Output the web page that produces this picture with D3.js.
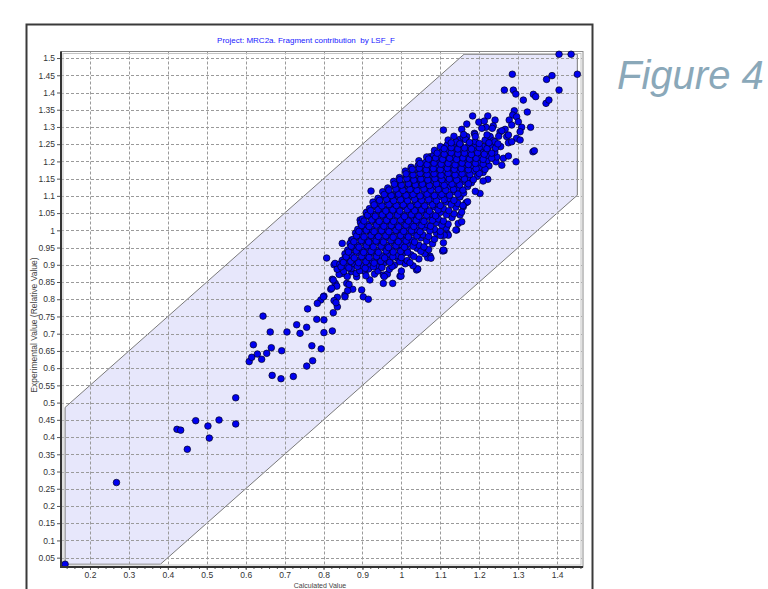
<!DOCTYPE html>
<html>
<head>
<meta charset="utf-8">
<script src="https://cdn.jsdelivr.net/npm/d3@7"></script>
<style>
  body { margin: 0; background: #fff; }
  text { font-family: "Liberation Sans", Arial, sans-serif; }
</style>
</head>
<body>
<svg id="chart" width="768" height="589"></svg>
<script>
var titleText = "Project: MRC2a. Fragment contribution  by LSF_F";
var xLabel = "Calculated Value";
var yLabel = "Experimental Value (Relative Value)";
var figureLabel = "Figure 4";

var xTicks = [0.2, 0.3, 0.4, 0.5, 0.6, 0.7, 0.8, 0.9, 1, 1.1, 1.2, 1.3, 1.4];
var yTicks = [0.05, 0.1, 0.15, 0.2, 0.25, 0.3, 0.35, 0.4, 0.45, 0.5, 0.55, 0.6, 0.65, 0.7, 0.75,
              0.8, 0.85, 0.9, 0.95, 1, 1.05, 1.1, 1.15, 1.2, 1.25, 1.3, 1.35, 1.4, 1.45, 1.5];
var bandWidth = 0.35;

// scattered points
var sparsePoints = [
  [0.136,0.031],[0.268,0.268],[0.4235,0.4225],[0.433,0.420],[0.4716,0.4475],[0.450,0.3645],
  [0.503,0.432],[0.5065,0.397],[0.5315,0.4495],[0.5744,0.514],[0.5744,0.438],[0.609,0.619],
  [0.6155,0.6315],[0.6197,0.668],[0.630,0.641],[0.641,0.6257],[0.6445,0.751],[0.654,0.643],
  [0.663,0.705],[0.6658,0.6593],[0.668,0.579],[0.6907,0.5693],[0.6925,0.6506],[0.706,0.705],
  [0.7224,0.576],[0.731,0.726],[0.7396,0.701],[0.7566,0.7186],[0.7826,0.7418],[0.801,0.740],
  [0.801,0.703],[0.8226,0.708],[0.770,0.665],[0.794,0.656],[0.772,0.6216],[0.7568,0.606],
  [0.759,0.772],[0.808,0.9196],[0.827,0.900],[0.849,0.900],[0.8596,0.916],[0.8226,0.858],
  [0.830,0.846],[0.8185,0.829],[0.834,0.838],[0.8596,0.846],[0.855,0.812],[0.875,0.829],
  [0.8655,0.843],[0.801,0.809],[0.793,0.798],[0.784,0.788],[0.8355,0.8056],[0.827,0.796],
  [0.8355,0.778],[0.825,0.761],[0.848,0.962],[0.8295,0.904],[0.7995,0.807],[0.825,0.856],
  [0.821,0.832],[0.832,0.790],[0.855,0.807],[0.862,0.825],[0.898,0.827],[0.902,0.807],
  [0.915,0.800],[0.9536,0.846],[0.9777,0.846],[0.9536,0.870],[0.964,0.873],[0.9965,0.867],
  [1.041,0.887],[1.1096,0.941],[1.108,0.964],[1.106,0.986],[1.0736,0.925],[1.059,0.948],
  [1.0675,0.9205],[1.142,1.001],[1.1165,1.0105],[1.146,1.020],[0.998,0.916],[0.971,0.909],
  [0.945,0.909],[0.9495,0.8944],[0.922,1.114],[0.9665,1.1025],[0.986,1.1025],[0.9425,1.086],
  [0.932,1.040],[0.911,1.0464],[1.0137,1.093],[1.042,1.141],[1.0736,1.2135],[1.065,1.1944],
  [1.018,1.1315],[0.915,1.044],[0.894,1.030],[0.898,1.001],[0.872,0.972],[0.8765,0.948],
  [0.868,0.928],[0.855,0.919],[0.8466,0.894],[0.851,0.875],[0.872,0.880],[0.885,0.865],
  [0.9066,0.880],[0.919,0.856],[1.039,0.885],[1.106,0.940],[1.118,0.991],[1.202,1.107],
  [1.166,1.080],[1.155,1.025],[1.140,1.001],[1.1206,0.986],[1.108,0.943],[1.076,0.919],
  [1.042,0.888],[0.999,0.867],[1.338,1.228],[1.1507,1.0975],[1.159,1.0685],[1.1507,1.0444],
  [1.222,1.148],[1.185,1.1845],[1.0967,1.1556],[1.129,1.2235],[1.1147,1.2426]
];

// upper end of the cloud
var upperPoints = [
  [1.108,1.291],[1.183,1.332],[1.199,1.314],[1.222,1.332],[1.2406,1.320],[1.236,1.303],
  [1.2175,1.299],[1.168,1.3085],[1.155,1.293],[1.168,1.272],[1.1875,1.2815],[1.1507,1.264],
  [1.226,1.272],[1.232,1.257],[1.2535,1.286],[1.2705,1.272],[1.275,1.254],[1.262,1.209],
  [1.258,1.189],[1.243,1.199],[1.405,1.511],[1.436,1.511],[1.452,1.453],[1.285,1.453],
  [1.373,1.438],[1.387,1.449],[1.2645,1.407],[1.2876,1.407],[1.294,1.3955],[1.3133,1.378],
  [1.339,1.3947],[1.345,1.388],[1.405,1.407],[1.3716,1.3685],[1.379,1.378],[1.3235,1.3433],
  [1.290,1.347],[1.286,1.3346],[1.296,1.3297],[1.277,1.320],[1.3005,1.315],[1.2835,1.3056],
  [1.2665,1.293],[1.309,1.299],[1.332,1.299],[1.305,1.286],[1.258,1.289],[1.275,1.2766],
  [1.296,1.267],[1.2835,1.257],[1.305,1.262],[1.3416,1.231],[1.2066,1.296],[1.213,1.317],
  [1.2335,1.296],[1.189,1.2786],[1.159,1.270],[1.228,1.272],[1.236,1.260],[1.2235,1.2525],
  [1.275,1.2156],[1.2945,1.199],[1.185,1.2525],[1.2066,1.2426]
];

// dense core, estimated (points overlap too much to read singly)
var corePoints = [
  [0.84,0.872],[0.861,0.866],[0.884,0.875],[0.909,0.868],[0.931,0.873],[0.956,0.866],
  [0.835,0.887],[0.852,0.881],[0.871,0.889],[0.893,0.883],[0.916,0.888],[0.94,0.882],[0.969,0.887],[1.0,0.882],
  [0.842,0.902],[0.86,0.896],[0.878,0.904],[0.897,0.898],[0.918,0.903],[0.935,0.897],[0.955,0.905],[0.982,0.899],[1.01,0.903],[1.03,0.897],
  [0.848,0.913],[0.868,0.919],[0.887,0.912],[0.905,0.918],[0.925,0.911],[0.944,0.917],[0.965,0.913],[0.99,0.919],[1.015,0.912],[1.045,0.917],
  [0.855,0.932],[0.873,0.927],[0.892,0.934],[0.912,0.928],[0.93,0.933],[0.95,0.926],[0.968,0.932],[0.988,0.927],[1.005,0.934],[1.025,0.929],[1.06,0.932],
  [0.862,0.943],[0.88,0.948],[0.9,0.942],[0.918,0.947],[0.937,0.941],[0.957,0.948],[0.975,0.943],[0.995,0.947],[1.015,0.942],[1.04,0.948],[1.07,0.944],
  [0.868,0.962],[0.887,0.957],[0.906,0.963],[0.925,0.958],[0.944,0.962],[0.962,0.956],[0.981,0.963],[1.0,0.958],[1.02,0.962],[1.045,0.957],[1.08,0.961],
  [0.875,0.973],[0.893,0.978],[0.912,0.972],[0.93,0.977],[0.95,0.972],[0.968,0.978],[0.987,0.973],[1.006,0.977],[1.026,0.972],[1.05,0.978],[1.085,0.974],
  [0.882,0.992],[0.9,0.987],[0.92,0.993],[0.938,0.988],[0.956,0.992],[0.975,0.986],[0.993,0.993],[1.012,0.988],[1.032,0.992],[1.055,0.987],[1.09,0.992],[1.11,0.986],
  [0.888,1.003],[0.906,1.008],[0.925,1.002],[0.945,1.007],[0.962,1.002],[0.98,1.008],[1.0,1.003],[1.018,1.007],[1.038,1.002],[1.06,1.008],[1.085,1.003],[1.115,1.007],
  [0.895,1.022],[0.913,1.017],[0.932,1.023],[0.95,1.018],[0.97,1.022],[0.988,1.016],[1.006,1.023],[1.025,1.018],[1.044,1.022],[1.066,1.017],[1.09,1.022],[1.12,1.018],
  [0.9,1.033],[0.92,1.038],[0.94,1.032],[0.958,1.037],[0.976,1.032],[0.995,1.038],[1.013,1.033],[1.032,1.037],[1.05,1.032],[1.07,1.038],[1.095,1.033],[1.13,1.037],
  [0.91,1.052],[0.928,1.047],[0.947,1.053],[0.965,1.048],[0.983,1.052],[1.002,1.046],[1.02,1.053],[1.038,1.048],[1.057,1.052],[1.077,1.047],[1.1,1.052],[1.135,1.048],[1.155,1.053],
  [0.918,1.063],[0.936,1.068],[0.955,1.062],[0.973,1.067],[0.991,1.062],[1.01,1.068],[1.028,1.063],[1.046,1.067],[1.064,1.062],[1.084,1.068],[1.108,1.063],[1.14,1.067],
  [0.927,1.082],[0.945,1.077],[0.963,1.083],[0.982,1.078],[1.0,1.082],[1.018,1.076],[1.036,1.083],[1.054,1.078],[1.072,1.082],[1.092,1.077],[1.115,1.082],[1.145,1.078],[1.17,1.083],
  [0.94,1.093],[0.957,1.098],[0.975,1.092],[0.993,1.097],[1.01,1.092],[1.028,1.098],[1.046,1.093],[1.064,1.097],[1.082,1.092],[1.1,1.098],[1.122,1.093],[1.15,1.097],
  [0.952,1.112],[0.97,1.107],[0.988,1.113],[1.006,1.108],[1.023,1.112],[1.04,1.106],[1.058,1.113],[1.076,1.108],[1.094,1.112],[1.112,1.107],[1.132,1.112],[1.16,1.108],[1.19,1.113],
  [0.965,1.123],[0.983,1.128],[1.001,1.122],[1.018,1.127],[1.036,1.122],[1.053,1.128],[1.07,1.123],[1.088,1.127],[1.106,1.122],[1.124,1.128],[1.145,1.123],[1.17,1.127],
  [0.98,1.142],[0.998,1.137],[1.015,1.143],[1.032,1.138],[1.05,1.142],[1.067,1.136],[1.084,1.143],[1.102,1.138],[1.12,1.142],[1.138,1.137],[1.158,1.142],[1.18,1.138],[1.21,1.143],
  [0.995,1.153],[1.012,1.158],[1.03,1.152],[1.047,1.157],[1.064,1.152],[1.081,1.158],[1.098,1.153],[1.116,1.157],[1.134,1.152],[1.152,1.158],[1.17,1.153],[1.195,1.157],
  [1.01,1.172],[1.028,1.167],[1.045,1.173],[1.062,1.168],[1.079,1.172],[1.096,1.166],[1.113,1.173],[1.13,1.168],[1.148,1.172],[1.165,1.167],[1.185,1.172],[1.21,1.168],
  [1.025,1.183],[1.043,1.188],[1.06,1.182],[1.077,1.187],[1.094,1.182],[1.111,1.188],[1.128,1.183],[1.145,1.187],[1.162,1.182],[1.18,1.188],[1.2,1.183],[1.225,1.187],
  [1.045,1.202],[1.062,1.197],[1.08,1.203],[1.097,1.198],[1.114,1.202],[1.13,1.196],[1.147,1.203],[1.164,1.198],[1.18,1.202],[1.198,1.197],[1.22,1.202],
  [1.065,1.213],[1.083,1.218],[1.1,1.212],[1.117,1.217],[1.134,1.212],[1.15,1.218],[1.167,1.213],[1.184,1.217],[1.2,1.212],[1.22,1.218],[1.245,1.213],
  [1.085,1.232],[1.103,1.227],[1.12,1.233],[1.137,1.228],[1.153,1.232],[1.17,1.226],[1.187,1.233],[1.204,1.228],[1.222,1.232],[1.24,1.227],
  [1.1,1.243],[1.118,1.248],[1.135,1.242],[1.152,1.247],[1.17,1.242],[1.19,1.248],[1.21,1.243],[1.23,1.247],[1.255,1.243],
  [1.12,1.262],[1.14,1.257],[1.165,1.263],[1.19,1.258],[1.215,1.262],[1.24,1.257],
  [1.135,1.273],[1.16,1.278],[1.19,1.272],[1.22,1.277],[1.25,1.273]
];

// more core points lying between the ones above
var coreFillPoints = [
  [0.845,0.894],[0.865,0.891],[0.887,0.895],[0.907,0.890],[0.928,0.894],[0.95,0.892],[0.976,0.895],
  [0.851,0.907],[0.87,0.910],[0.89,0.906],[0.909,0.909],[0.93,0.905],[0.947,0.910],[0.97,0.907],[0.996,0.909],[1.022,0.906],
  [0.858,0.923],[0.879,0.920],[0.898,0.924],[0.917,0.921],[0.936,0.924],[0.957,0.920],[0.978,0.923],[1.0,0.921],[1.032,0.924],
  [0.864,0.937],[0.884,0.940],[0.903,0.936],[0.922,0.939],[0.941,0.936],[0.961,0.940],[0.979,0.937],[0.998,0.939],[1.016,0.936],[1.05,0.939],
  [0.871,0.954],[0.891,0.951],[0.91,0.955],[0.928,0.952],[0.948,0.954],[0.967,0.950],[0.986,0.955],[1.008,0.951],[1.03,0.954],[1.058,0.952],
  [0.878,0.967],[0.897,0.970],[0.916,0.966],[0.935,0.969],[0.954,0.966],[0.973,0.970],[0.992,0.967],[1.012,0.969],[1.034,0.966],[1.065,0.969],
  [0.885,0.984],[0.904,0.981],[0.922,0.985],[0.941,0.982],[0.96,0.984],[0.979,0.980],[0.998,0.985],[1.018,0.981],[1.04,0.984],[1.07,0.982],[1.1,0.985],
  [0.891,0.997],[0.91,1.000],[0.93,0.996],[0.949,0.999],[0.968,0.996],[0.986,1.000],[1.006,0.997],[1.026,0.999],[1.048,0.996],[1.073,0.999],[1.1,0.997],
  [0.898,1.014],[0.917,1.011],[0.936,1.015],[0.955,1.012],[0.974,1.014],[0.993,1.010],[1.012,1.015],[1.032,1.011],[1.052,1.014],[1.075,1.012],[1.104,1.015],
  [0.904,1.027],[0.924,1.030],[0.943,1.026],[0.962,1.029],[0.98,1.026],[0.998,1.030],[1.018,1.027],[1.038,1.029],[1.058,1.026],[1.08,1.029],[1.108,1.027],
  [0.913,1.044],[0.933,1.041],[0.951,1.045],[0.97,1.042],[0.99,1.044],[1.008,1.040],[1.026,1.045],[1.045,1.041],[1.065,1.044],[1.088,1.042],[1.116,1.045],
  [0.921,1.057],[0.94,1.060],[0.96,1.056],[0.978,1.059],[0.996,1.056],[1.015,1.060],[1.034,1.057],[1.052,1.059],[1.072,1.056],[1.094,1.059],[1.122,1.057],
  [0.93,1.074],[0.95,1.071],[0.968,1.075],[0.987,1.072],[1.005,1.074],[1.024,1.070],[1.042,1.075],[1.06,1.071],[1.08,1.074],[1.1,1.072],[1.128,1.075],[1.158,1.072],
  [0.944,1.087],[0.962,1.090],[0.98,1.086],[0.998,1.089],[1.016,1.086],[1.034,1.090],[1.052,1.087],[1.07,1.089],[1.09,1.086],[1.11,1.089],[1.135,1.087],
  [0.956,1.104],[0.974,1.101],[0.993,1.105],[1.012,1.102],[1.03,1.104],[1.048,1.100],[1.066,1.105],[1.085,1.101],[1.104,1.104],[1.124,1.102],[1.145,1.105],
  [0.968,1.117],[0.986,1.120],[1.004,1.116],[1.022,1.119],[1.04,1.116],[1.058,1.120],[1.076,1.117],[1.095,1.119],[1.114,1.116],[1.134,1.119],[1.158,1.117],
  [0.982,1.134],[1.0,1.131],[1.018,1.135],[1.036,1.132],[1.054,1.134],[1.072,1.130],[1.09,1.135],[1.11,1.131],[1.13,1.134],[1.15,1.132],[1.172,1.135],
  [0.996,1.147],[1.014,1.150],[1.032,1.146],[1.05,1.149],[1.068,1.146],[1.086,1.150],[1.104,1.147],[1.123,1.149],[1.142,1.146],[1.162,1.149],[1.185,1.147],
  [1.012,1.164],[1.03,1.161],[1.048,1.165],[1.066,1.162],[1.084,1.164],[1.102,1.160],[1.12,1.165],[1.138,1.161],[1.156,1.164],[1.176,1.162],[1.2,1.165],
  [1.028,1.177],[1.046,1.180],[1.064,1.176],[1.082,1.179],[1.1,1.176],[1.118,1.180],[1.136,1.177],[1.154,1.179],[1.172,1.176],[1.192,1.179],[1.215,1.177],
  [1.048,1.194],[1.066,1.191],[1.084,1.195],[1.102,1.192],[1.12,1.194],[1.138,1.190],[1.156,1.195],[1.172,1.191],[1.19,1.194],[1.21,1.192],
  [1.07,1.207],[1.088,1.210],[1.106,1.206],[1.124,1.209],[1.142,1.206],[1.158,1.210],[1.175,1.207],[1.192,1.209],[1.21,1.206],[1.232,1.209],
  [1.092,1.224],[1.11,1.221],[1.128,1.225],[1.145,1.222],[1.162,1.224],[1.18,1.220],[1.196,1.225],[1.213,1.221],[1.232,1.224],
  [1.11,1.237],[1.128,1.240],[1.145,1.236],[1.162,1.239],[1.18,1.236],[1.2,1.240],[1.22,1.237],[1.242,1.239],
  [1.128,1.254],[1.15,1.251],[1.175,1.255],[1.2,1.252],[1.225,1.254],[1.248,1.251]
];

var allPoints = sparsePoints.concat(upperPoints, corePoints, coreFillPoints);

var plot = { left: 61, top: 51.5, right: 582, bottom: 567 };

var svg = d3.select("#chart");

var x = d3.scaleLinear().domain([0.1255, 1.464]).range([plot.left, plot.right]);
var y = d3.scaleLinear().domain([0.0229, 1.519]).range([plot.bottom, plot.top]);

// outer frame of the figure
svg.append("rect")
    .attr("x", 26.5).attr("y", 24.5)
    .attr("width", 566).attr("height", 600)
    .attr("fill", "#fff")
    .attr("stroke", "#3a3a3a")
    .attr("stroke-width", 2);

// band of +/- bandWidth around y = x, clipped to the data extent
var xMin = d3.min(allPoints, function(d) { return d[0]; }),
    xMax = d3.max(allPoints, function(d) { return d[0]; }),
    yMin = d3.min(allPoints, function(d) { return d[1]; }),
    yMax = d3.max(allPoints, function(d) { return d[1]; });

var band = [
  [xMin, yMin], [yMin + bandWidth, yMin], [xMax, xMax - bandWidth],
  [xMax, yMax], [yMax - bandWidth, yMax], [xMin, xMin + bandWidth]
];

svg.append("polygon")
    .attr("points", band.map(function(d) { return x(d[0]) + "," + y(d[1]); }).join(" "))
    .attr("fill", "#e7e7fb")
    .attr("stroke", "#7a7a7a")
    .attr("stroke-width", 1);

// grid
svg.append("g")
    .attr("class", "grid")
    .selectAll("line.gx")
    .data(xTicks)
    .enter().append("line")
      .attr("x1", function(d) { return Math.round(x(d)) + 0.5; })
      .attr("x2", function(d) { return Math.round(x(d)) + 0.5; })
      .attr("y1", plot.top)
      .attr("y2", plot.bottom)
      .attr("stroke", "#9a9a9a")
      .attr("stroke-dasharray", "3,2");

svg.select(".grid")
    .selectAll("line.gy")
    .data(yTicks)
    .enter().append("line")
      .attr("x1", plot.left)
      .attr("x2", plot.right)
      .attr("y1", function(d) { return Math.round(y(d)) + 0.5; })
      .attr("y2", function(d) { return Math.round(y(d)) + 0.5; })
      .attr("stroke", "#9a9a9a")
      .attr("stroke-dasharray", "3,2");

// plot frame (top / right double grey line)
svg.append("rect")
    .attr("x", plot.left).attr("y", plot.top)
    .attr("width", plot.right - plot.left + 1).attr("height", plot.bottom - plot.top)
    .attr("fill", "none")
    .attr("stroke", "#8a8a8a");
svg.append("rect")
    .attr("x", plot.left + 2).attr("y", plot.top + 2)
    .attr("width", plot.right - plot.left - 3).attr("height", plot.bottom - plot.top - 4)
    .attr("fill", "none")
    .attr("stroke", "#c4c4c4");

// points
svg.append("g")
  .selectAll("circle")
  .data(allPoints)
  .enter().append("circle")
    .attr("cx", function(d) { return x(d[0]); })
    .attr("cy", function(d) { return y(d[1]); })
    .attr("r", 3.3)
    .attr("fill", "#0000f0")
    .attr("stroke", "#000020")
    .attr("stroke-width", 0.7);

// axes
var xAxis = svg.append("g")
    .attr("transform", "translate(0," + plot.bottom + ")")
    .call(d3.axisBottom(x).tickValues(xTicks).tickSize(3).tickPadding(2)
      .tickFormat(function(d) { return String(+d.toFixed(2)); }));

svg.append("g")
    .attr("transform", "translate(0," + plot.bottom + ")")
    .call(d3.axisBottom(x).tickValues(d3.range(0.14, 1.461, 0.02)).tickSize(2).tickFormat(""))
    .call(function(g) { g.select(".domain").remove(); })
    .selectAll("line").attr("stroke", "#555");

var yAxis = svg.append("g")
    .attr("transform", "translate(" + plot.left + ",0)")
    .call(d3.axisLeft(y).tickValues(yTicks).tickSize(4).tickPadding(2)
      .tickFormat(function(d) { return String(+d.toFixed(2)); }));

[xAxis, yAxis].forEach(function(g) {
  g.select(".domain").remove();
  g.selectAll(".tick line").attr("stroke", "#555");
  g.selectAll(".tick text")
    .attr("fill", "#333")
    .style("font-size", "8.5px")
    .style("font-family", "'Liberation Sans', Arial, sans-serif");
});

// thick dark axis lines
svg.append("line")
    .attr("x1", plot.left).attr("x2", plot.left)
    .attr("y1", plot.top).attr("y2", plot.bottom + 1)
    .attr("stroke", "#333").attr("stroke-width", 2);
svg.append("line")
    .attr("x1", plot.left).attr("x2", plot.right + 1)
    .attr("y1", plot.bottom).attr("y2", plot.bottom)
    .attr("stroke", "#333").attr("stroke-width", 2);

// texts
svg.append("text")
    .attr("x", 306).attr("y", 43)
    .attr("text-anchor", "middle")
    .attr("fill", "#2020ff")
    .style("font-size", "8px")
    .style("white-space", "pre")
    .text(titleText);

svg.append("text")
    .attr("transform", "translate(37,325) rotate(-90)")
    .attr("text-anchor", "middle")
    .attr("fill", "#444")
    .style("font-size", "8.5px")
    .text(yLabel);

svg.append("text")
    .attr("x", 320).attr("y", 587.5)
    .attr("text-anchor", "middle")
    .attr("fill", "#444")
    .style("font-size", "7px")
    .text(xLabel);

svg.append("text")
    .attr("x", 617).attr("y", 89)
    .attr("fill", "#8aa8b9")
    .style("font-size", "40px")
    .style("font-style", "italic")
    .text(figureLabel);
</script>
</body>
</html>
